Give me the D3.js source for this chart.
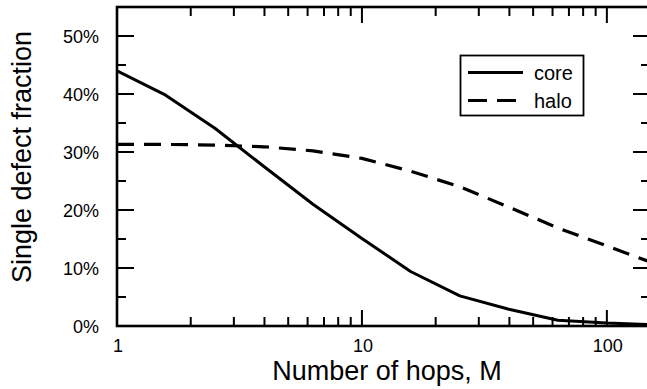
<!DOCTYPE html>
<html>
<head>
<meta charset="utf-8">
<script src="https://cdn.jsdelivr.net/npm/d3@7"></script>
<style>
  html, body { margin: 0; padding: 0; background: #fff; }
  svg { display: block; font-family: "Liberation Sans", Arial, Helvetica, sans-serif; }
</style>
</head>
<body>
<svg id="chart" width="647" height="389"></svg>
<script>
// Number of hops (log-spaced) and single-defect fractions
const hops = [1, 1.58, 2.51, 3.98, 6.31, 10, 15.8, 25.1, 39.8, 63.1, 100, 158];
const coreFraction = [0.440, 0.398, 0.341, 0.275, 0.210, 0.151, 0.094, 0.052, 0.029, 0.010, 0.005, 0.002];
const haloFraction = [0.313, 0.313, 0.312, 0.309, 0.302, 0.289, 0.267, 0.240, 0.205, 0.169, 0.138, 0.107];
const seriesNames = ["core", "halo"];
const xTickLabels = [1, 10, 100];
const yTickLabels = [0, 0.1, 0.2, 0.3, 0.4, 0.5];

const svg = d3.select("#chart");
const frame = { left: 117, right: 650, top: 7, bottom: 326 };

const x = d3.scaleLog().domain([1, 150]).range([frame.left, frame.right]);
const y = d3.scaleLinear().domain([0, 0.55]).range([frame.bottom, frame.top]);

const majorLen = 16, minorLen = 9;
const xMinor = [];
[1, 10, 100].forEach(d => { for (let k = 2; k <= 9; k++) { const v = d * k; if (v < 150) xMinor.push(v); } });
const yMinor = d3.range(0.05, 0.55, 0.1);

// Curves, clipped to the plot frame
svg.append("clipPath").attr("id", "plotClip")
  .append("rect").attr("x", frame.left).attr("y", frame.top)
  .attr("width", frame.right - frame.left).attr("height", frame.bottom - frame.top);

const line = d3.line().x(d => x(d[0])).y(d => y(d[1]));
const plot = svg.append("g").attr("clip-path", "url(#plotClip)");

plot.append("path")
  .datum(hops.map((h, i) => [h, coreFraction[i]]))
  .attr("d", line).attr("fill", "none").attr("stroke", "#000")
  .attr("stroke-width", 3).attr("stroke-linejoin", "round");

plot.append("path")
  .datum(hops.map((h, i) => [h, haloFraction[i]]))
  .attr("d", line).attr("fill", "none").attr("stroke", "#000")
  .attr("stroke-width", 3.2).attr("stroke-dasharray", "17,10");

// Inward ticks on all four sides
const ticks = svg.append("g").attr("stroke", "#000").attr("stroke-width", 2);
function xTick(v, len) {
  ticks.append("line").attr("x1", x(v)).attr("x2", x(v)).attr("y1", frame.bottom).attr("y2", frame.bottom - len);
  ticks.append("line").attr("x1", x(v)).attr("x2", x(v)).attr("y1", frame.top).attr("y2", frame.top + len);
}
function yTick(v, len) {
  ticks.append("line").attr("y1", y(v)).attr("y2", y(v)).attr("x1", frame.left).attr("x2", frame.left + len);
  ticks.append("line").attr("y1", y(v)).attr("y2", y(v)).attr("x1", frame.right).attr("x2", frame.right - len);
}
xTickLabels.forEach(v => xTick(v, majorLen));
xMinor.forEach(v => xTick(v, minorLen));
yTickLabels.forEach(v => yTick(v, majorLen + 1));
yMinor.forEach(v => yTick(v, minorLen));

// Frame
svg.append("rect").attr("x", frame.left).attr("y", frame.top)
  .attr("width", frame.right - frame.left).attr("height", frame.bottom - frame.top)
  .attr("fill", "none").attr("stroke", "#000").attr("stroke-width", 2.6);

// Tick labels
svg.append("g").selectAll("text").data(xTickLabels).join("text")
  .attr("x", d => x(d) + 1).attr("y", 352)
  .attr("text-anchor", "middle").attr("font-size", 18).text(d => d3.format("d")(d));

svg.append("g").selectAll("text").data(yTickLabels).join("text")
  .attr("x", 99).attr("y", d => y(d) + 6.5)
  .attr("text-anchor", "end").attr("font-size", 18).text(d => d3.format(".0%")(d));

// Axis titles
svg.append("text").attr("x", 387).attr("y", 380).attr("text-anchor", "middle")
  .attr("font-size", 27).text("Number of hops, M");
svg.append("text").attr("transform", "translate(31,157) rotate(-90)").attr("text-anchor", "middle")
  .attr("font-size", 27).text("Single defect fraction");

// Legend
const legend = svg.append("g");
legend.append("rect").attr("x", 460.5).attr("y", 55.5).attr("width", 123).attr("height", 60)
  .attr("fill", "#fff").attr("stroke", "#000").attr("stroke-width", 1.8);
seriesNames.forEach((name, i) => {
  const ly = 72.5 + i * 28;
  legend.append("line").attr("x1", 468).attr("x2", 523).attr("y1", ly).attr("y2", ly)
    .attr("stroke", "#000").attr("stroke-width", 3)
    .attr("stroke-dasharray", i === 1 ? "19,10" : null);
  legend.append("text").attr("x", 534).attr("y", ly + 7).attr("font-size", 20).text(name);
});
</script>
</body>
</html>
